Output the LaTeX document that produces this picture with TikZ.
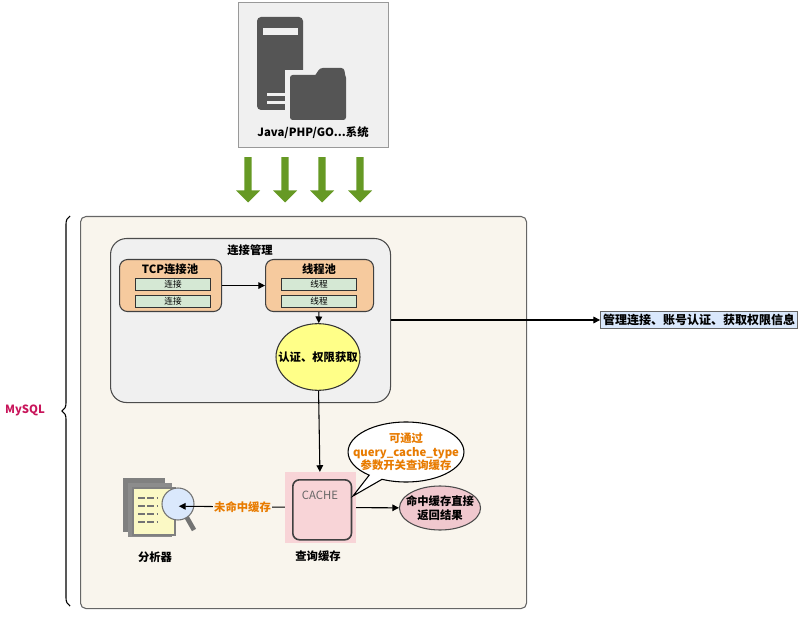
\documentclass[tikz,border=0pt]{standalone}
\usepackage{fontspec}
\setmainfont{Noto Sans CJK SC}
\usetikzlibrary{positioning,shapes.geometric,shapes.arrows,shapes.callouts,arrows.meta,decorations.pathreplacing}
\definecolor{mygray}{RGB}{240,240,240}
\definecolor{mypanel}{RGB}{249,245,237}
\definecolor{myorange}{RGB}{246,202,158}
\definecolor{mygreen}{RGB}{213,232,212}
\definecolor{myarrow}{RGB}{102,153,36}
\definecolor{myyellow}{RGB}{255,255,136}
\definecolor{mypink}{RGB}{248,212,215}
\definecolor{myrose}{RGB}{240,200,206}
\definecolor{myblue}{RGB}{218,232,252}
\definecolor{mytext}{RGB}{232,123,0}
\definecolor{mycrimson}{RGB}{200,20,90}
\definecolor{myicon}{RGB}{85,85,85}
\begin{document}
\begin{tikzpicture}[
  x=0.75pt, y=-0.75pt,
  font=\bfseries\fontsize{8.5}{10}\selectfont,
  >={Triangle[length=5pt,width=5pt]},
  line/.style={draw=black, thick},
  box/.style={draw=black!75, thick, rounded corners=6pt, fill=myorange},
  row/.style={draw=black!80, thick, fill=mygreen, minimum width=56pt, minimum height=9.5pt, inner sep=0pt, font=\fontsize{6.5}{7}\selectfont},
  greenarrow/.style={draw=none, fill=myarrow, single arrow, single arrow head extend=5pt, minimum width=18pt, minimum height=34pt, shape border rotate=270, inner sep=2pt}
]
\useasboundingbox (0,0) rectangle (803,620);

% client system
\node[draw=black!40, thick, fill=mygray, minimum width=112.5pt, minimum height=108.75pt, anchor=north west] (client) at (238,2) {};
\fill[myicon, rounded corners=3pt] (257,17) rectangle (303,110);
\fill[mygray] (263,28) rectangle (298,35);
\fill[mygray] (267,93) rectangle (290,96);
\fill[mygray] (267,101) rectangle (290,104);
\fill[mygray] (285,70) rectangle (350,123);
\fill[myicon, rounded corners=2pt] (290,75) rectangle (346,120);
\fill[myicon, rounded corners=2pt] (320,68) -- (344,68) -- (346,80) -- (312,80) -- cycle;
\node (clientlabel) at (313,133) {Java/PHP/GO...系统};

% green arrows
\foreach \X [count=\i] in {248,285,322,360}
  \node[greenarrow] (down\i) at (\X,178) {};

% mysql panel
\node[draw=black!60, thick, rounded corners=4pt, fill=mypanel, minimum width=334.5pt, minimum height=294pt, anchor=north west] (mysql) at (80,216) {};
\draw[thick, decorate, decoration={brace, amplitude=6pt}] (70,606) -- (70,216);
\node[text=mycrimson] (mysqllabel) at (25,410) {MySQL};

% connection management
\node[draw=black!70, thick, rounded corners=12pt, fill=mygray, minimum width=210pt, minimum height=123pt, anchor=north west] (conn) at (110,238) {};
\node (conntitle) at (250,250) {连接管理};

\node[box, minimum width=76.5pt, minimum height=39pt, anchor=north west] (tcp) at (119,259) {};
\node (tcptitle) at (170,269) {TCP连接池};
\node[row] (tcp1) at (173,284.5) {连接};
\node[row] (tcp2) at (173,301.5) {连接};

\node[box, minimum width=81pt, minimum height=39pt, anchor=north west] (pool) at (265,259) {};
\node (pooltitle) at (319,269) {线程池};
\node[row] (pool1) at (319,284.5) {线程};
\node[row] (pool2) at (319,301.5) {线程};

\draw[line, ->] (tcp) -- (pool);

\node[ellipse, draw=black!80, thick, fill=myyellow, minimum width=63pt, minimum height=50pt, inner xsep=-8pt, inner ysep=0pt] (auth) at (318,357) {认证、权限获取};
\draw[line, ->] (pool) -- (auth);

\node[draw=black!60, fill=myblue, inner sep=2pt, font=\bfseries\fontsize{9}{10}\selectfont] (info) at (699,320) {管理连接、账号认证、获取权限信息};
\draw[line, ->] (conn.east |- info) -- (info);

% query cache
\node[fill=mypink, minimum width=53pt, minimum height=53pt] (cache) at (320.5,507.5) {};
\node[draw=black!75, very thick, rounded corners=5pt, fill=mypink, minimum width=44pt, minimum height=45pt, anchor=north west] (cachebox) at (292,479) {};
\node[font=\fontsize{8.5}{9}\selectfont, text=black!60] (cachetext) at (320,495) {CACHE};
\node (cachelabel) at (318,556) {查询缓存};
\draw[line, ->] (auth) -- (cache);

\node[ellipse callout, draw=black, thick, fill=white, minimum width=82pt, minimum height=45pt, inner xsep=-9pt, inner ysep=-2pt, align=center, text=mytext, callout absolute pointer={(353,496)}] (note) at (406,452) {可通过\\query\_cache\_type\\参数开关查询缓存};

\node[ellipse, draw=black!70, thick, fill=myrose, minimum width=60pt, minimum height=33pt, inner xsep=-4pt, inner ysep=0pt, align=center] (hit) at (440,508) {命中缓存直接\\返回结果};
\draw[line, ->] (cache) -- (hit);

% analyzer icon
\node[minimum width=40pt, minimum height=45pt] (parser) at (152,506) {};
\fill[black!50] (123,478) rectangle (165,532);
\fill[black!45] (128,483) rectangle (172,537);
\draw[black!50, fill=myyellow!40!mypanel, thick] (133,488) rectangle (175,535);
\foreach \Y in {498,506,514,522}
  \draw[black!55, thick, dash pattern=on 5pt off 2pt] (138,\Y) -- (158,\Y);
\draw[black!55, line width=3.5pt] (186,516) -- (194,530);
\draw[black!55, thick, fill=myblue] (178,504) circle (12pt);
\node (parserlabel) at (155,557) {分析器};

\draw[line, ->] (cache) -- (parser) node[pos=0.4, fill=mypanel, text=mytext, inner sep=1pt] (miss) {未命中缓存};
\end{tikzpicture}
\end{document}
